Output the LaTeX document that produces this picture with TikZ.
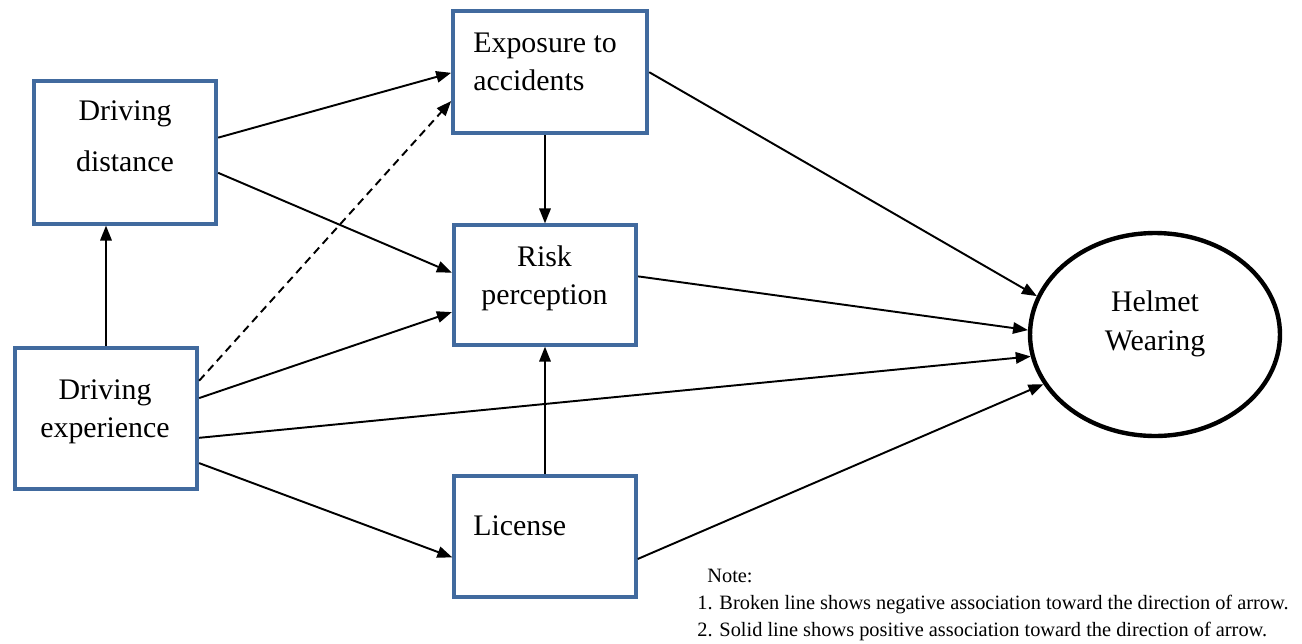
\documentclass[tikz,border=0pt]{standalone}
\usepackage{fontspec}
\setmainfont{Liberation Serif}
\usetikzlibrary{arrows.meta,calc,shapes.geometric}
\definecolor{boxblue}{RGB}{65,106,158}
\tikzset{
  box/.style={draw=boxblue, line width=2.2pt, minimum width=3.65cm, inner sep=0pt},
  lbl/.style={inner sep=0pt, align=center},
  arr/.style={line width=1.1pt, -{Triangle[length=8.5pt,width=6.5pt]}},
  neg/.style={dash pattern=on 4.5pt off 3pt}
}
\begin{document}
\begin{tikzpicture}[x=0.02cm,y=-0.02cm]
  \useasboundingbox (0,0) rectangle (1302,643);
  \node[box, minimum height=2.854cm] (dd) at (125,152.3) {};
  \node[box, minimum width=3.886cm, minimum height=2.434cm] (ed) at (550.2,72.2) {};
  \node[box, minimum height=2.388cm] (rp) at (545,285) {};
  \node[box, minimum width=3.632cm, minimum height=2.42cm] (lic) at (545,536.5) {};
  \node[box, minimum height=2.814cm] (de) at (106,418.3) {};
  \node[ellipse, draw, line width=2.5pt, minimum width=5cm, minimum height=4.06cm, inner sep=0pt] (hw) at (1155,334.5) {};

  \node[lbl, font=\fontsize{17}{29}\selectfont] (dd-t) at (125,136.3) {Driving\\distance};
  \node[lbl, font=\fontsize{17}{21.6}\selectfont, anchor=west, align=left] (ed-t) at (473,62) {Exposure to\\accidents};
  \node[lbl, font=\fontsize{17}{21.6}\selectfont] (rp-t) at (544.5,277.9) {Risk\\perception};
  \node[lbl, font=\fontsize{17}{21.6}\selectfont, anchor=west] (lic-t) at (473,525.5) {License};
  \node[lbl, font=\fontsize{17}{22.2}\selectfont] (hw-t) at (1155,323.4) {Helmet\\Wearing};
  \node[lbl, font=\fontsize{17}{21.6}\selectfont] (de-t) at (105,412) {Driving\\experience};
  \node[lbl, font=\fontsize{11.6}{15.6}\selectfont, anchor=west, align=left] (note) at (697,605)
    {\hspace*{5.7pt}Note:\\1. Broken line shows negative association toward the direction of arrow.\\2. Solid line shows positive association toward the direction of arrow.};

  \begin{scope}[arr]
    \draw (de.north) -- (de.north |- dd.south);
    \draw ($(dd.north east)!0.40!(dd.south east)$) -- ($(ed.north west)!0.505!(ed.south west)$);
    \draw ($(dd.north east)!0.64!(dd.south east)$) -- ($(rp.north west)!0.40!(rp.south west)$);
    \draw[neg] ($(de.north east)!0.24!(de.south east)$) -- ($(ed.north west)!0.73!(ed.south west)$);
    \draw ($(de.north east)!0.36!(de.south east)$) -- ($(rp.north west)!0.72!(rp.south west)$);
    \draw ($(de.north east)!0.635!(de.south east)$) -- (hw.190);
    \draw ($(de.north east)!0.81!(de.south east)$) -- ($(lic.north west)!0.667!(lic.south west)$);
    \draw (rp.north |- ed.south) -- (rp.north);
    \draw (lic.north) -- (lic.north |- rp.south);
    \draw ($(ed.north east)!0.50!(ed.south east)$) -- (hw.162);
    \draw ($(rp.north east)!0.43!(rp.south east)$) -- (hw.178);
    \draw ($(lic.north east)!0.68!(lic.south east)$) -- (hw.204);
  \end{scope}
\end{tikzpicture}
\end{document}
